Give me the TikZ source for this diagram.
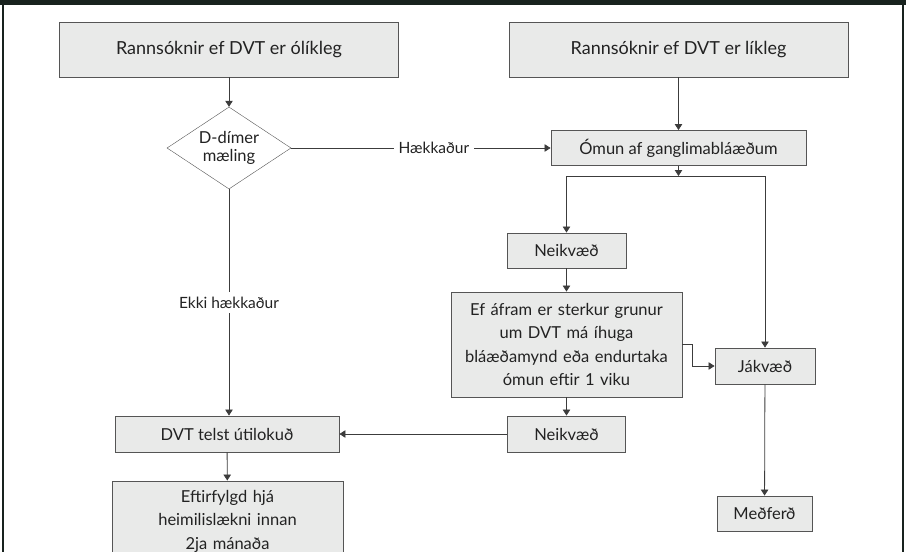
\documentclass[tikz,border=0pt]{standalone}
\usepackage{fontspec}
\setmainfont{Lato}
\usetikzlibrary{positioning, arrows.meta, shapes.geometric, calc}
\definecolor{boxfill}{HTML}{E9EAE9}
\definecolor{boxline}{HTML}{555555}
\definecolor{linecol}{HTML}{3C3C3C}
\definecolor{barcol}{HTML}{18221E}
\definecolor{txtcol}{HTML}{222222}

\begin{document}
\begin{tikzpicture}[
    x=1pt, y=-1pt,
    box/.style={draw=boxline, fill=boxfill, line width=0.9pt, align=center,
      inner sep=0pt, text=txtcol, font=\fontsize{16.5}{23.5}\selectfont},
    topbox/.style={box, minimum width=339pt, minimum height=55pt,
      font=\fontsize{18}{22}\selectfont},
    dec/.style={draw=boxline, fill=white, diamond, aspect=1.5, align=center,
      inner sep=0pt, minimum width=124pt, minimum height=82pt, text=txtcol,
      font=\fontsize{16.5}{18.5}\selectfont},
    lbl/.style={fill=white, inner sep=5pt, text=txtcol, font=\fontsize{15.5}{19}\selectfont},
    arr/.style={-{Triangle[length=6pt,width=7.5pt]}, draw=linecol, line width=0.8pt}
  ]
    \useasboundingbox (0,0) rectangle (906,552);
    \fill[barcol] (0,0) rectangle (906,5);
    \draw[barcol, line width=2pt] (3,5) -- (3,552);
    \draw[barcol, line width=2pt] (903,5) -- (903,552);

    \node[topbox] (olik) at (229,49.5) {Rannsóknir ef DVT er ólíkleg};
    \node[topbox] (lik) at (678.5,49.5) {Rannsóknir ef DVT er líkleg};
    \node[dec] (dimer) at (229,148) {D-dímer\\mæling};
    \node[box, minimum width=255pt, minimum height=35pt] (omun) at (678.5,148) {Ómun af ganglimabláæðum};
    \coordinate (split) at (678.5,176);
    \node[box, minimum width=119pt, minimum height=35pt] (neik1) at (566.5,250.5) {Neikvæð};
    \node[box, minimum width=231pt, minimum height=105pt, text width=225pt] (grunur) at (566.5,344.5)
      {Ef áfram er sterkur grunur\\um DVT má íhuga\\bláæðamynd eða endurtaka\\ómun eftir 1 viku};
    \node[box, minimum width=100pt, minimum height=36pt] (jak) at (765,366) {Jákvæð};
    \node[box, minimum width=118pt, minimum height=36pt] (neik2) at (566.5,434) {Neikvæð};
    \node[box, minimum width=224pt, minimum height=36pt] (utilok) at (227,434) {DVT telst útilokuð};
    \node[box, minimum width=231pt, minimum height=80pt, text width=225pt] (eftir) at (227.5,521)
      {Eftirfylgd hjá\\heimilislækni innan\\2ja mánaða};
    \node[box, minimum width=95pt, minimum height=35pt] (medf) at (764.5,513.5) {Meðferð};

    \draw[arr] (olik) -- (dimer);
    \draw[arr] (lik) -- (omun);
    \draw[arr] (dimer.east) -- node[lbl, pos=0.55] {Hækkaður} (omun.west);
    \draw[arr] (dimer.south) -- node[lbl] {Ekki hækkaður} (dimer.south |- utilok.north);
    \draw[arr] (omun) -- (split);
    \draw[arr] (split) -| (neik1);
    \draw[arr] (split) -| (jak);
    \draw[arr] (neik1) -- (grunur);
    \draw[arr] (grunur.east) -- ++(10,0) |- (jak.west);
    \draw[arr] (grunur) -- (neik2);
    \draw[arr] (neik2) -- (utilok);
    \draw[arr] (utilok) -- (eftir);
    \draw[arr] (jak) -- (medf);
  \end{tikzpicture}
\end{document}
